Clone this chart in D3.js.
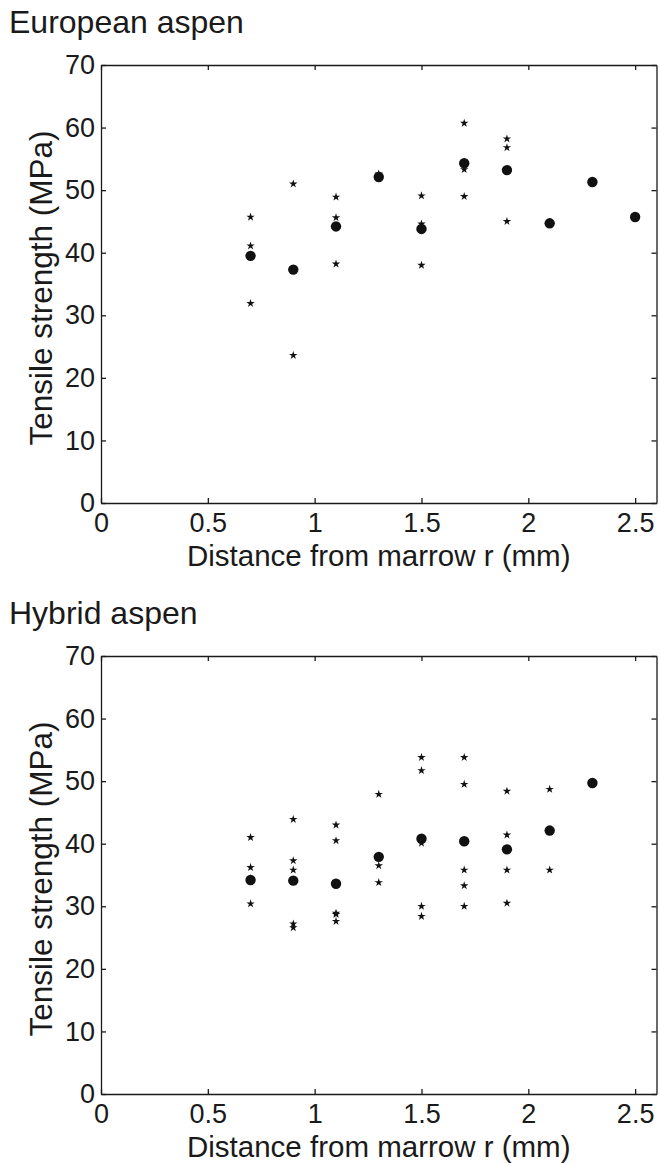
<!DOCTYPE html>
<html lang="en">
<head>
    <meta charset="UTF-8">
    <script src="https://d3js.org/d3.v7.min.js"></script>
    <style>
        body { margin: 0; background: #fff; }
        svg { font-family: "Liberation Sans", Arial, sans-serif; }
        .axis path, .axis line { stroke: #1a1a1a; stroke-width: 1.3px; }
        .axis text { font-size: 27px; fill: #1a1a1a; }
        .title, .label { fill: #1a1a1a; }
    </style>
</head>
<body>
    <svg id="chart"></svg>
    <script>
        // distances from marrow (mm)
        const europeanR = [0.7, 0.9, 1.1, 1.3, 1.5, 1.7, 1.9, 2.1, 2.3, 2.5];
        const europeanMean = [39.5, 37.3, 44.2, 52.1, 43.8, 54.3, 53.2, 44.7, 51.3, 45.7];
        const europeanSamples = [
            [45.7, 41.1, 31.9], [51.0, 23.6], [48.9, 45.6, 38.2], [52.6],
            [49.1, 44.6, 38.0], [60.7, 53.3, 49.0], [58.2, 56.8, 45.0], [], [], []
        ];

        const hybridR = [0.7, 0.9, 1.1, 1.3, 1.5, 1.7, 1.9, 2.1, 2.3];
        const hybridMean = [34.2, 34.1, 33.6, 37.9, 40.8, 40.4, 39.1, 42.1, 49.7];
        const hybridSamples = [
            [41.0, 36.2, 34.4, 30.4], [43.9, 37.3, 35.8, 27.2, 26.6],
            [43.0, 40.5, 28.9, 28.7, 27.6], [47.9, 36.5, 33.8],
            [53.8, 51.7, 40.1, 30.0, 28.4], [53.8, 49.5, 35.8, 33.3, 30.0],
            [48.4, 41.4, 35.8, 30.5], [48.7, 35.8], []
        ];

        const xTicks = [0, 0.5, 1, 1.5, 2, 2.5];
        const yTicks = [0, 10, 20, 30, 40, 50, 60, 70];

        const W = 660, H = 1163;
        const svg = d3.select("#chart").attr("width", W).attr("height", H);

        const left = 101, right = 656.5, plotH = 438;

        const x = d3.scaleLinear().domain([0, 2.6]).range([left, right]);

        function drawPanel(top, title, rs, means, samples) {
            const y = d3.scaleLinear().domain([0, 70]).range([top + plotH, top]);
            const g = svg.append("g");

            g.append("text")
                .attr("class", "title")
                .attr("x", 9)
                .attr("y", top - 32)
                .style("font-size", "32px")
                .text(title);

            g.append("g").attr("class", "axis")
                .attr("transform", `translate(0,${top + plotH})`)
                .call(d3.axisBottom(x).tickValues(xTicks).tickSizeInner(-5).tickSizeOuter(0).tickPadding(10).tickFormat(d3.format("")));
            g.append("g").attr("class", "axis")
                .attr("transform", `translate(0,${top})`)
                .call(d3.axisTop(x).tickValues(xTicks).tickSizeInner(-5).tickSizeOuter(0).tickFormat(""));
            g.append("g").attr("class", "axis")
                .attr("transform", `translate(${left},0)`)
                .call(d3.axisLeft(y).tickValues(yTicks).tickSizeInner(-5).tickSizeOuter(0).tickPadding(6));
            g.append("g").attr("class", "axis")
                .attr("transform", `translate(${right},0)`)
                .call(d3.axisRight(y).tickValues(yTicks).tickSizeInner(-5).tickSizeOuter(0).tickFormat(""));

            g.append("text")
                .attr("class", "label")
                .attr("x", (left + right) / 2)
                .attr("y", top + plotH + 63)
                .attr("text-anchor", "middle")
                .style("font-size", "29.5px")
                .text("Distance from marrow r (mm)");

            g.append("text")
                .attr("class", "label")
                .attr("transform", `translate(52,${top + plotH / 2 + 4}) rotate(-90)`)
                .attr("text-anchor", "middle")
                .style("font-size", "31.5px")
                .text("Tensile strength (MPa)");

            const pts = [];
            rs.forEach((r, i) => samples[i].forEach(v => pts.push({r, v})));

            g.selectAll(".star")
                .data(pts)
                .enter()
                .append("path")
                .attr("class", "star")
                .attr("d", d3.symbol().type(d3.symbolStar).size(22))
                .attr("transform", d => `translate(${x(d.r)},${y(d.v)})`)
                .attr("fill", "#111");

            g.selectAll(".mean")
                .data(rs.map((r, i) => ({r, v: means[i]})))
                .enter()
                .append("circle")
                .attr("class", "mean")
                .attr("cx", d => x(d.r))
                .attr("cy", d => y(d.v))
                .attr("r", 5.2)
                .attr("fill", "#111");
        }

        drawPanel(65, "European aspen", europeanR, europeanMean, europeanSamples);
        drawPanel(656, "Hybrid aspen", hybridR, hybridMean, hybridSamples);
    </script>
</body>
</html>
